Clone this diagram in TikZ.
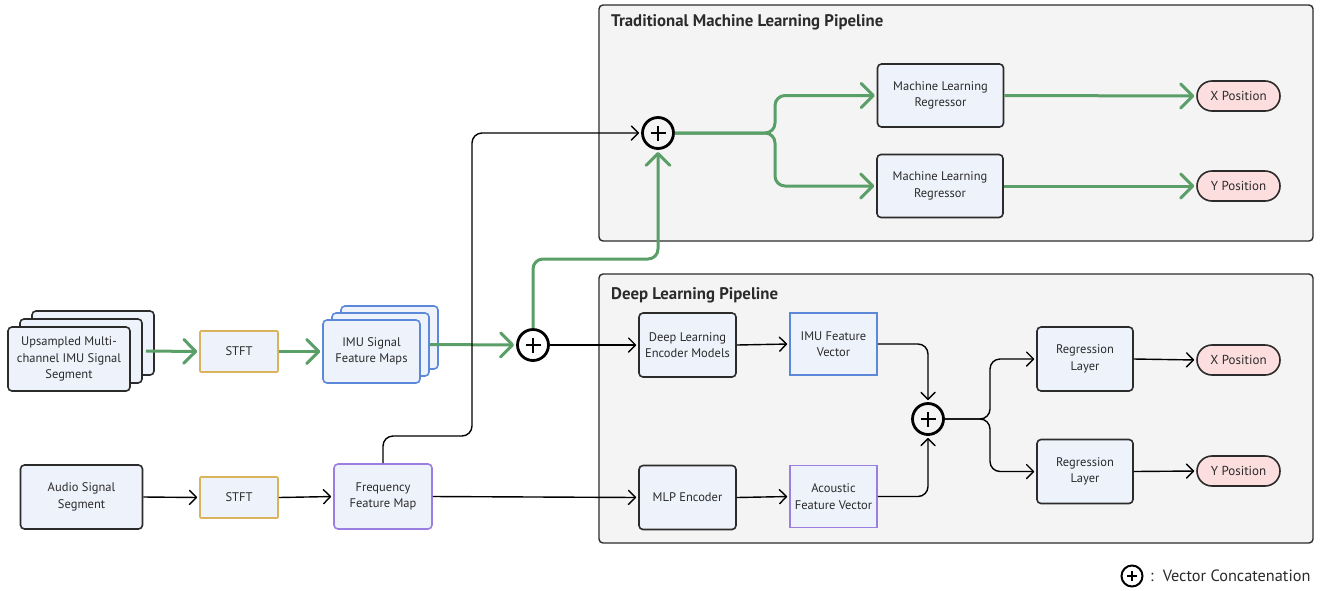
\documentclass[tikz,border=0pt]{standalone}
\usepackage{fontspec}
\setmainfont{PT Sans}
\usetikzlibrary{arrows.meta}
\definecolor{boxfill}{HTML}{EEF2FB}
\definecolor{flowgreen}{HTML}{5A9E68}
\definecolor{stftgold}{HTML}{D9B45C}
\definecolor{featblue}{HTML}{5B88D8}
\definecolor{featpurple}{HTML}{9A7FE0}
\definecolor{outpink}{HTML}{FDDEDE}
\definecolor{pipegray}{HTML}{F4F4F4}
\definecolor{inkgray}{HTML}{2B2B2B}
\tikzset{
  every node/.style={text=inkgray, font=\fontsize{12.5}{16.5}\selectfont},
  box/.style={draw=inkgray, fill=boxfill, line width=1.6pt, rounded corners=4pt, align=center, inner sep=0pt},
  inbox/.style={box, minimum width=122pt, minimum height=64pt},
  stftbox/.style={box, draw=stftgold, rounded corners=1pt, minimum width=78pt, minimum height=41pt},
  mapbox/.style={box, draw=featblue, minimum width=97pt, minimum height=63pt},
  freqbox/.style={box, draw=featpurple, minimum width=98pt, minimum height=65pt},
  encbox/.style={box, minimum width=97pt, minimum height=64pt},
  vecbox/.style={box, rounded corners=0pt, minimum width=87pt, minimum height=62pt},
  mlbox/.style={box, minimum width=126pt, minimum height=63pt},
  regbox/.style={box, minimum width=96pt, minimum height=64pt},
  outpill/.style={draw=inkgray, fill=outpink, line width=1.6pt, rounded corners=15pt, minimum width=83pt, minimum height=30pt, inner sep=0pt, font=\fontsize{13}{15}\selectfont},
  pipe/.style={draw=inkgray, fill=pipegray, line width=1.4pt, rounded corners=4pt},
  pipetitle/.style={anchor=west, inner sep=0pt, font=\fontsize{16.8}{19}\selectfont\bfseries},
  concat/.style={circle, draw=black, line width=2.8pt, minimum size=31pt, inner sep=0pt,
    path picture={\draw[line width=2.8pt] ([xshift=-7.5pt]path picture bounding box.center) -- ([xshift=7.5pt]path picture bounding box.center)
      ([yshift=-7.5pt]path picture bounding box.center) -- ([yshift=7.5pt]path picture bounding box.center);}},
  concatsmall/.style={circle, draw=black, line width=2pt, minimum size=21pt, inner sep=0pt,
    path picture={\draw[line width=2pt] ([xshift=-5pt]path picture bounding box.center) -- ([xshift=5pt]path picture bounding box.center)
      ([yshift=-5pt]path picture bounding box.center) -- ([yshift=5pt]path picture bounding box.center);}},
  green/.style={draw=flowgreen, line width=3pt, shorten >=2pt, -{Straight Barb[round,length=12pt,width=24pt]}},
  conn/.style={draw=black, line width=1.4pt, shorten >=2pt, -{Straight Barb[round,length=7pt,width=14pt]}}
}
\begin{document}
\begin{tikzpicture}[x=1pt,y=-1pt]
\useasboundingbox (0,0) rectangle (1324,590);
\node[pipe, minimum width=714pt, minimum height=236pt] (tradpipe) at (956,123) {};
\node[pipe, minimum width=714pt, minimum height=269pt] (deeppipe) at (956,408.5) {};
\node[pipetitle] (tradtitle) at (611,22) {Traditional Machine Learning Pipeline};
\node[pipetitle] (deeptitle) at (611,295) {Deep Learning Pipeline};

\node[inbox] (imu3) at (93,343) {};
\node[inbox] (imu2) at (81,351) {};
\node[inbox] (imu) at (69,359) {Upsampled Multi-\\channel IMU Signal\\Segment};
\node[stftbox] (stft1) at (239,351.5) {STFT};
\node[mapbox] (fmap3) at (389.5,337.5) {};
\node[mapbox] (fmap2) at (380.5,344.5) {};
\node[mapbox] (fmap) at (371.5,351.5) {IMU Signal\\Feature Maps};
\node[inbox] (audio) at (81.5,497) {Audio Signal\\Segment};
\node[stftbox] (stft2) at (239,497.5) {STFT};
\node[freqbox] (freq) at (383,496.5) {Frequency\\Feature Map};
\node[concat] (plus1) at (533,345) {};
\node[concat] (plus2) at (658,133) {};

\node[mlbox] (mlr1) at (940.5,95.5) {Machine Learning\\Regressor};
\node[mlbox] (mlr2) at (940,186) {Machine Learning\\Regressor};
\node[outpill] (xpos1) at (1238.5,96) {X Position};
\node[outpill] (ypos1) at (1238.5,186) {Y Position};

\node[encbox] (dle) at (687.5,345) {Deep Learning\\Encoder Models};
\node[vecbox, draw=featblue] (imufv) at (833.5,344) {IMU Feature\\Vector};
\node[encbox] (mlp) at (687.5,497.5) {MLP Encoder};
\node[vecbox, draw=featpurple] (acfv) at (833.5,496.5) {Acoustic\\Feature Vector};
\node[concat] (plus3) at (928,419) {};
\node[regbox] (reg1) at (1085,359) {Regression\\Layer};
\node[regbox] (reg2) at (1085,471.5) {Regression\\Layer};
\node[outpill] (xpos2) at (1238.5,360) {X Position};
\node[outpill] (ypos2) at (1238.5,471) {Y Position};

\node[concatsmall] (legplus) at (1132,576) {};
\node[anchor=west, inner sep=0pt, font=\fontsize{16.3}{18}\selectfont] (legtext) at (1150,576) {:\hspace{9pt}Vector Concatenation};

\draw[green] ([xshift=3pt]imu2.east) -- (stft1.west);
\draw[green] (stft1.east) -- (fmap.west);
\draw[green] (fmap2.east) -- (plus1.west);
\draw[green, rounded corners=10pt] (plus1.north) |- (658,259) -- (plus2.south);
\draw[green, rounded corners=10pt] (plus2.east) -- (775,133) |- (mlr1.west);
\draw[green, rounded corners=10pt] (plus2.east) -- (775,133) |- (mlr2.west);
\draw[green] (mlr1.east) -- (xpos1.west);
\draw[green] (mlr2.east) -- (ypos1.west);

\draw[conn] (audio.east) -- (stft2.west);
\draw[conn] (stft2.east) -- (freq.west);
\draw[conn, rounded corners=10pt] (freq.north) |- (472,436) |- (plus2.west);
\draw[conn] (plus1.east) -- (dle.west);
\draw[conn] (freq.east) -- (mlp.west);
\draw[conn] (dle.east) -- (imufv.west);
\draw[conn] (mlp.east) -- (acfv.west);
\draw[conn, rounded corners=10pt] (imufv.east) -| (plus3.north);
\draw[conn, rounded corners=10pt] (acfv.east) -| (plus3.south);
\draw[conn, rounded corners=10pt] (plus3.east) -- (990,419) |- (reg1.west);
\draw[conn, rounded corners=10pt] (plus3.east) -- (990,419) |- (reg2.west);
\draw[conn] (reg1.east) -- (xpos2.west);
\draw[conn] (reg2.east) -- (ypos2.west);
\end{tikzpicture}
\end{document}
